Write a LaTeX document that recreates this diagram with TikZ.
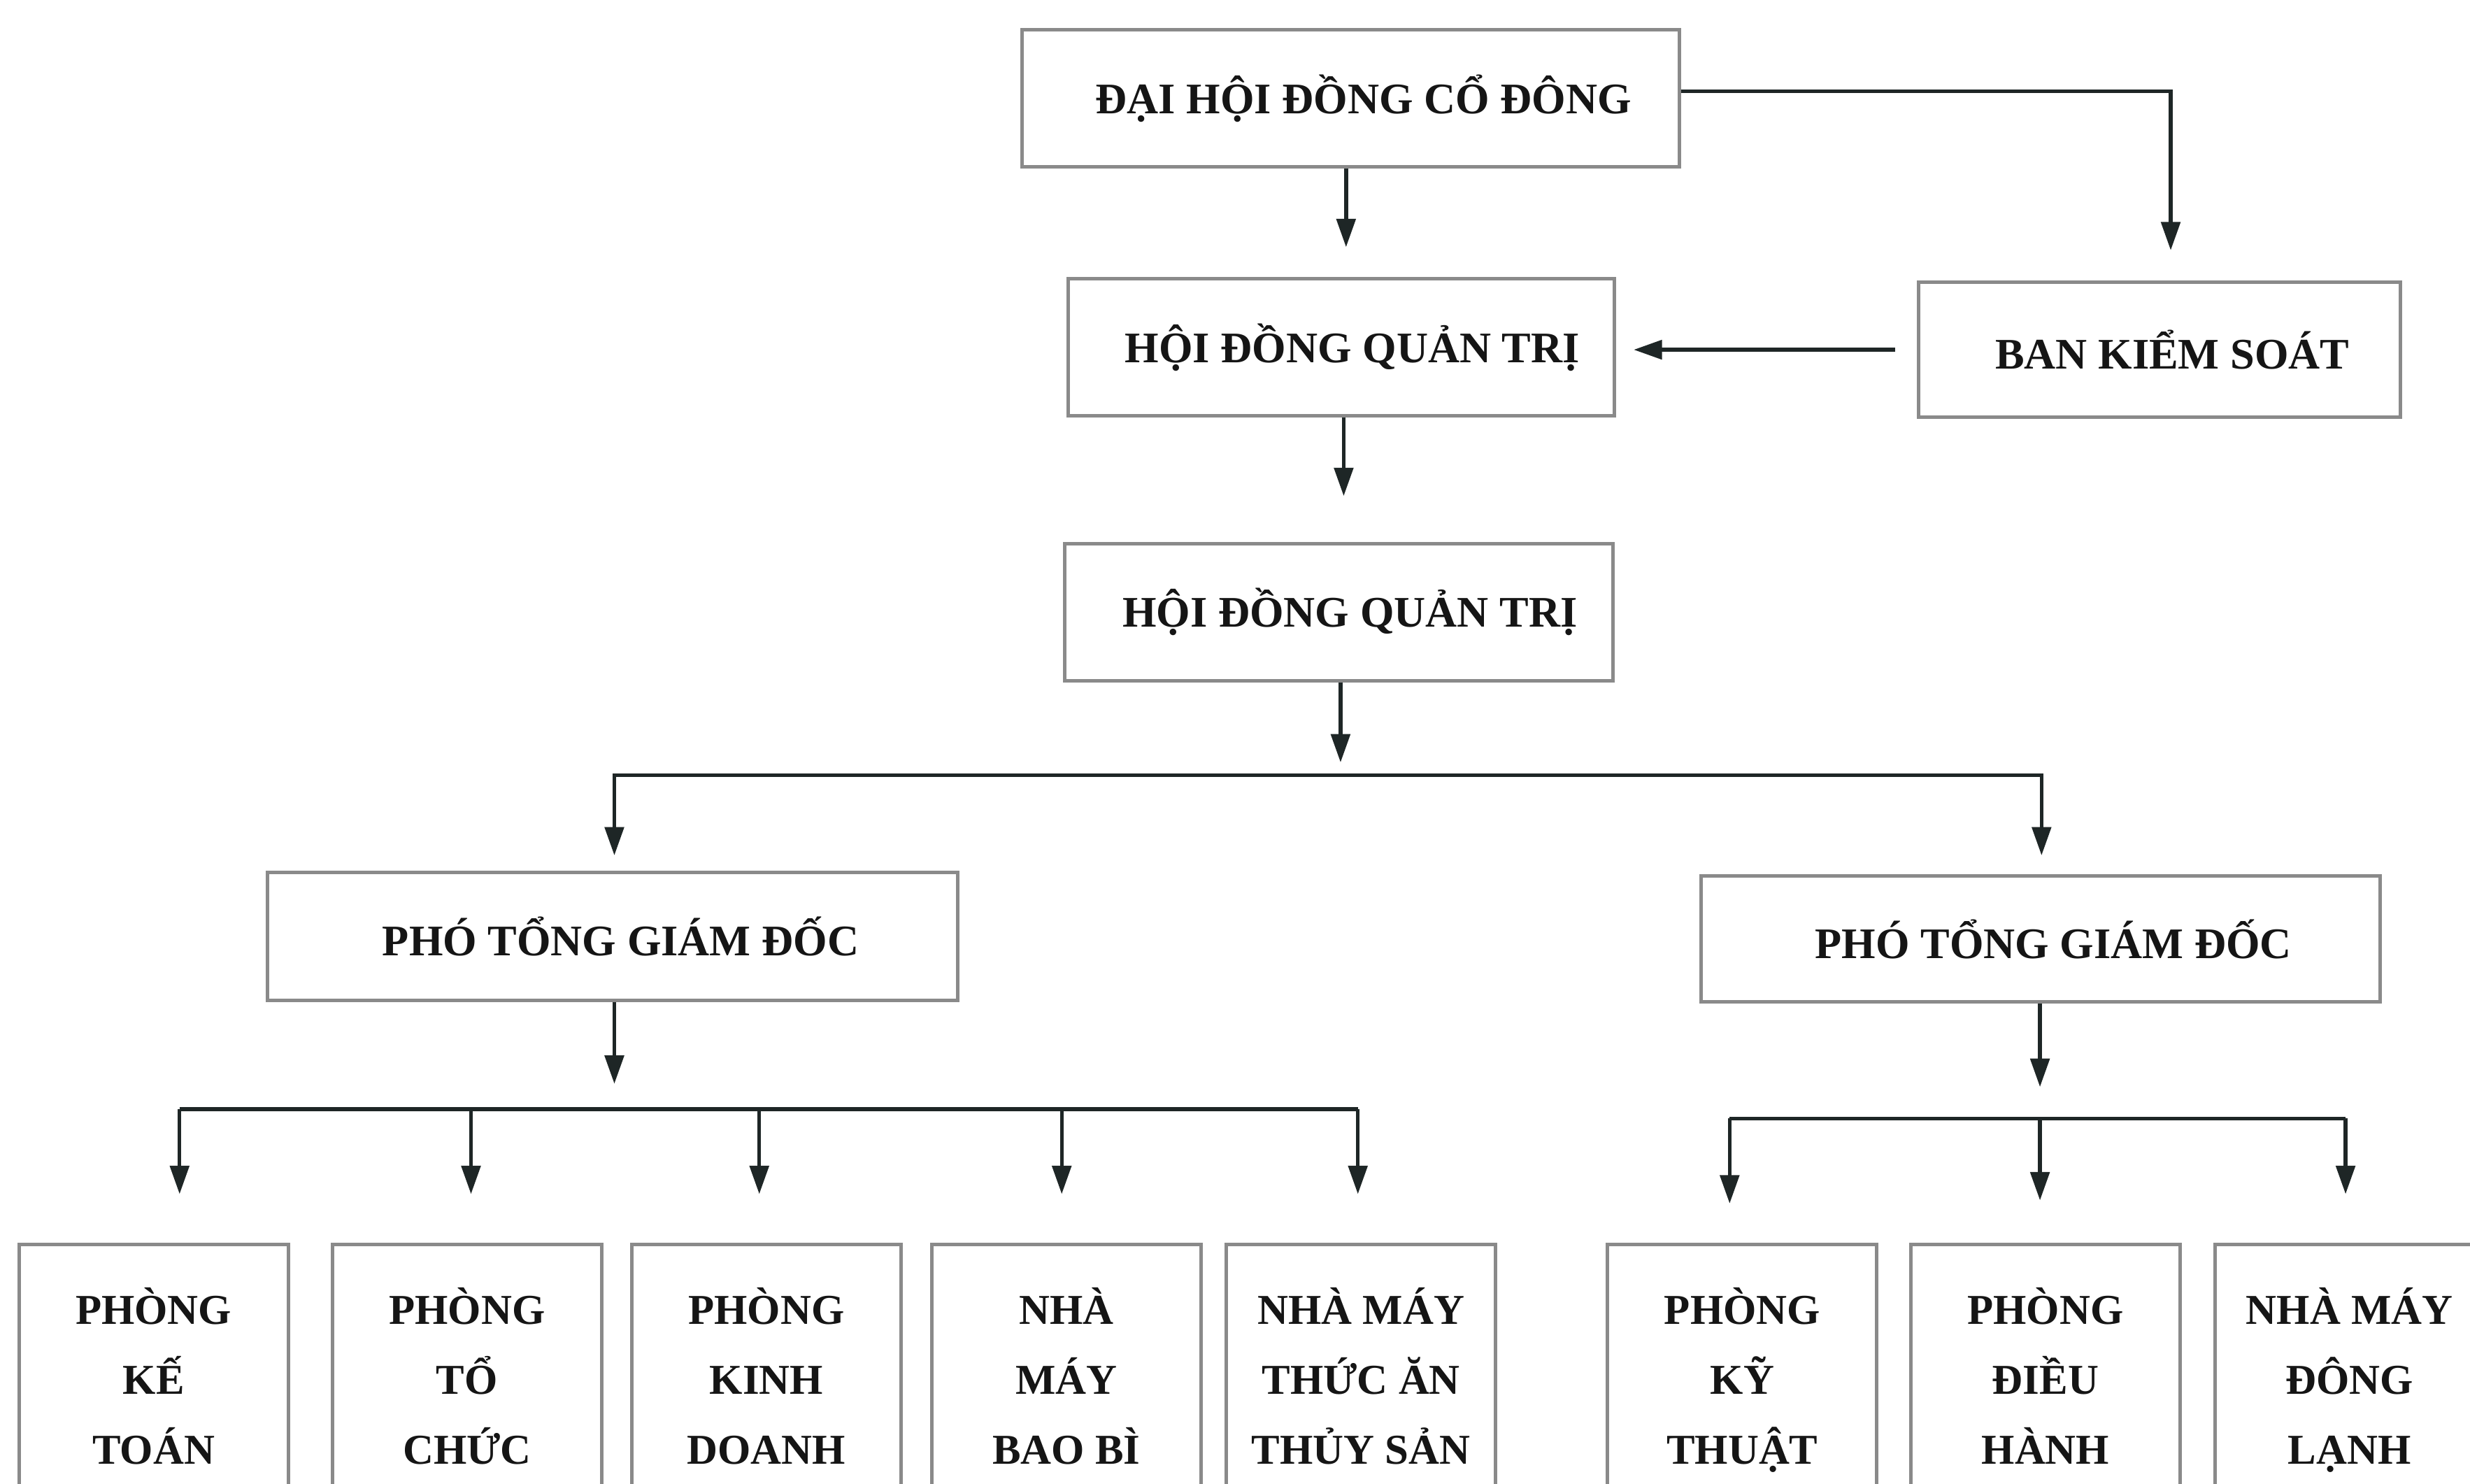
\documentclass[tikz,border=0pt]{standalone}
\usepackage{fontspec}
\setmainfont{Liberation Serif}
\usetikzlibrary{arrows.meta}
\definecolor{boxline}{HTML}{8A8A8A}
\definecolor{connline}{HTML}{1E2626}
\definecolor{txt}{HTML}{151515}
\newcommand{\rowstrut}{\rule[-13.35pt]{0pt}{44.5pt}}
\tikzset{
  orgbox/.style={draw=boxline, line width=2.2pt, fill=white, text=txt, inner sep=0pt,
    align=center, font=\fontsize{27.7}{44.5}\selectfont\bfseries},
  unitbox/.style={orgbox, font=\fontsize{27}{44.5}\selectfont\bfseries,
    minimum width=171pt, minimum height=172pt},
  conn/.style={draw=connline, line width=2.4pt},
  arr/.style={conn, -{Triangle[length=18pt,width=12pt]}}
}
\begin{document}
\begin{tikzpicture}[x=1pt,y=-1pt]
\useasboundingbox[fill=white] (0,0) rectangle (1568,942);
\clip (0,0) rectangle (1568,942);

% top levels
\node[orgbox, minimum width=417pt, minimum height=87pt] (dh) at (857.5,62.5) {\hspace*{16pt}ĐẠI HỘI ĐỒNG CỔ ĐÔNG};
\node[orgbox, minimum width=347pt, minimum height=87pt] (hd1) at (851.5,220.5) {\hspace*{14pt}HỘI ĐỒNG QUẢN TRỊ};
\node[orgbox, minimum width=306pt, minimum height=86pt] (bks) at (1371,222) {\hspace*{16pt}BAN KIỂM SOÁT};
\node[orgbox, minimum width=348pt, minimum height=87pt] (hd2) at (850,388.5) {\hspace*{14pt}HỘI ĐỒNG QUẢN TRỊ};
\node[orgbox, minimum width=438pt, minimum height=81pt] (p1) at (389,594.5) {\hspace*{10pt}PHÓ TỔNG GIÁM ĐỐC};
\node[orgbox, minimum width=431pt, minimum height=80pt] (p2) at (1295.5,596) {\hspace*{16pt}PHÓ TỔNG GIÁM ĐỐC};

% bottom units
\node[unitbox] (b1) at (97.5,876) {\rowstrut PHÒNG\\\rowstrut KẾ\\\rowstrut TOÁN};
\node[unitbox] (b2) at (296.5,876) {\rowstrut PHÒNG\\\rowstrut TỔ\\\rowstrut CHỨC};
\node[unitbox] (b3) at (486.5,876) {\rowstrut PHÒNG\\\rowstrut KINH\\\rowstrut DOANH};
\node[unitbox] (b4) at (677,876) {\rowstrut NHÀ\\\rowstrut MÁY\\\rowstrut BAO BÌ};
\node[unitbox] (b5) at (864,876) {\rowstrut NHÀ MÁY\\\rowstrut THỨC ĂN\\\rowstrut THỦY SẢN};
\node[unitbox] (b6) at (1106,876) {\rowstrut PHÒNG\\\rowstrut KỸ\\\rowstrut THUẬT};
\node[unitbox] (b7) at (1298.5,876) {\rowstrut PHÒNG\\\rowstrut ĐIỀU\\\rowstrut HÀNH};
\node[unitbox] (b8) at (1491.5,876) {\rowstrut NHÀ MÁY\\\rowstrut ĐÔNG\\\rowstrut LẠNH};

% connectors top
\draw[arr, shorten >=19pt] ([xshift=-3pt]dh.south) -- ([xshift=-3pt]dh.south |- hd1.north);
\coordinate (k1) at (1378,58);
\draw[arr, shorten >=19pt] (dh.east |- k1) -| (k1 |- bks.north);
\draw[arr, shorten <=14pt, shorten >=11pt] (bks.west) -- (bks.west -| hd1.east);
\draw[arr, shorten >=29pt] ([xshift=1.5pt]hd1.south) -- ([xshift=1.5pt]hd1.south |- hd2.north);

% split to deputies
\coordinate (s1) at (851,492);
\draw[arr, shorten >=8pt] (hd2.south -| s1) -- (s1);
\coordinate (d1) at (390,543);
\coordinate (d2) at (1296,543);
\draw[arr] (s1) -| (d1);
\draw[arr] (s1) -| (d2);

% left deputy units
\coordinate (s2) at (390,704);
\draw[arr, shorten >=16pt] (p1.south -| s2) -- (s2);
\coordinate (t1) at (114,758);
\coordinate (t2) at (299,758);
\coordinate (t3) at (482,758);
\coordinate (t4) at (674,758);
\coordinate (t5) at (862,758);
\draw[conn] (t1 |- s2) -- (t5 |- s2);
\foreach \t in {t1,t2,t3,t4,t5} \draw[arr] (\t |- s2) -- (\t);

% right deputy units
\coordinate (s3) at (1295,710);
\draw[arr, shorten >=20pt] (p2.south -| s3) -- (s3);
\coordinate (u1) at (1098,764);
\coordinate (u2) at (1295,762);
\coordinate (u3) at (1489,758);
\draw[conn] (u1 |- s3) -- (u3 |- s3);
\foreach \t in {u1,u2,u3} \draw[arr] (\t |- s3) -- (\t);
\end{tikzpicture}
\end{document}
